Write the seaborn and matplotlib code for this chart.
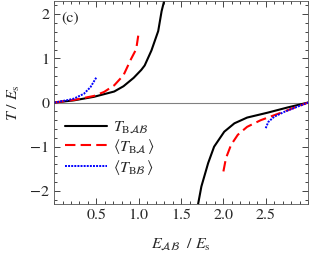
import numpy as np
import pandas as pd
import seaborn as sns
import matplotlib
matplotlib.use("Agg")
from matplotlib import pyplot as plt
from matplotlib.ticker import MultipleLocator, FormatStrFormatter

# black curve T_BAB, two branches either side of the pole
e_bab_lo = [0.0, 0.235, 0.47, 0.71, 0.82, 0.94, 1.03, 1.07, 1.15, 1.23, 1.27, 1.30, 1.33]
t_bab_lo = [0.0, 0.05, 0.13, 0.25, 0.37, 0.56, 0.74, 0.84, 1.18, 1.62, 2.07, 2.30, 2.65]
e_bab_hi = [1.68, 1.70, 1.74, 1.82, 1.89, 2.01, 2.13, 2.28, 2.52, 2.76, 3.0]
t_bab_hi = [-2.65, -2.31, -1.90, -1.37, -1.00, -0.66, -0.47, -0.34, -0.23, -0.11, 0.0]

# red dashed <T_BA>
e_ba_lo = [0.0, 0.235, 0.47, 0.59, 0.71, 0.82, 0.91, 0.97, 1.0]
t_ba_lo = [0.0, 0.06, 0.15, 0.24, 0.39, 0.62, 0.99, 1.21, 1.59]
e_ba_hi = [2.0, 2.03, 2.09, 2.17, 2.28, 2.44, 2.68, 3.0]
t_ba_hi = [-1.56, -1.26, -0.96, -0.73, -0.55, -0.40, -0.23, 0.0]

# blue dotted <T_BB>
e_bb_lo = [0.0, 0.17, 0.235, 0.353, 0.43, 0.49, 0.5]
t_bb_lo = [0.0, 0.06, 0.09, 0.20, 0.35, 0.54, 0.57]
e_bb_hi = [2.5, 2.53, 2.60, 2.72, 3.0]
t_bb_hi = [-0.58, -0.44, -0.32, -0.21, 0.0]

labels = [r'$T_{\mathrm{B}\mathcal{AB}}$',
          r'$\langle T_{\mathrm{B}\mathcal{A}}\,\rangle$',
          r'$\langle T_{\mathrm{B}\mathcal{B}}\,\rangle$']

sns.set_style("ticks")
plt.rcParams['font.family'] = ['STIXGeneral', 'DejaVu Serif']
plt.rcParams['mathtext.fontset'] = 'stix'
plt.rcParams['font.size'] = 11

fig = plt.figure(figsize=(3.09, 2.59), dpi=100)
ax = fig.add_axes([0.175, 0.212, 0.822, 0.784])

ax.axhline(0, color='gray', lw=0.8, zorder=1)

styles = [
    ('black', '-', 1.5, (e_bab_lo, t_bab_lo), (e_bab_hi, t_bab_hi)),
    ('red', (0, (5, 2.5)), 1.5, (e_ba_lo, t_ba_lo), (e_ba_hi, t_ba_hi)),
    ('blue', (0, (1, 0.6)), 1.4, (e_bb_lo, t_bb_lo), (e_bb_hi, t_bb_hi)),
]
for (col, ls, lw, lo, hi), lab in zip(styles, labels):
    sns.lineplot(x=lo[0], y=lo[1], ax=ax, color=col, linestyle=ls, lw=lw,
                 sort=False, label=lab)
    sns.lineplot(x=hi[0], y=hi[1], ax=ax, color=col, linestyle=ls, lw=lw,
                 sort=False)

ax.set_xlim(0, 3.0)
ax.set_ylim(-2.3, 2.3)
ax.set_xticks([0.5, 1.0, 1.5, 2.0, 2.5])
ax.xaxis.set_major_formatter(FormatStrFormatter('%.1f'))
ax.set_yticks([-2, -1, 0, 1, 2])
ax.xaxis.set_minor_locator(MultipleLocator(0.1))
ax.yaxis.set_minor_locator(MultipleLocator(0.2))
ax.tick_params(which='both', direction='in', top=True, right=True, width=0.6)
ax.tick_params(which='major', length=4, labelsize=11.5)
ax.tick_params(which='minor', length=2)
for s in ax.spines.values():
    s.set_linewidth(0.6)
    s.set_color('#555555')

ax.set_xlabel(r'$E_{\mathcal{AB}}\ \ /\ E_{\mathrm{s}}$', fontsize=11.5, labelpad=10)
ax.set_ylabel(r'$T\ /\ E_{\mathrm{s}}$', fontsize=11.5, labelpad=6)
ax.text(0.03, 0.92, '(c)', transform=ax.transAxes, fontsize=11.5, va='center')

ax.legend(loc='lower left', bbox_to_anchor=(0.0, 0.08), frameon=False,
          handlelength=2.6, handletextpad=0.4, labelspacing=0.1, fontsize=11.5,
          borderaxespad=0.3)

fig.savefig("out.png", dpi=100)
